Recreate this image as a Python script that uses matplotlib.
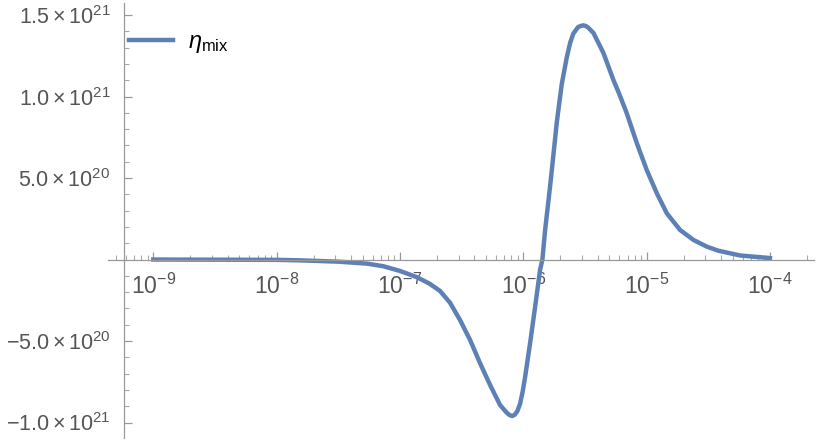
import numpy as np
import matplotlib
matplotlib.use('Agg')
import matplotlib.pyplot as plt
from matplotlib.ticker import FixedLocator, FixedFormatter, NullFormatter

plt.rcParams['font.family'] = ['Liberation Sans', 'DejaVu Sans']
plt.rcParams['mathtext.fontset'] = 'custom'
plt.rcParams['mathtext.rm'] = 'Liberation Sans'
plt.rcParams['mathtext.it'] = 'Liberation Sans:italic'
plt.rcParams['mathtext.bf'] = 'Liberation Sans:bold'

# curve: log10(x) and eta in units of 1e21
log_t = [-9.0, -8.5, -8.0, -7.81, -7.5, -7.269, -7.135, -7.0, -6.864, -6.76,
         -6.675, -6.594, -6.513, -6.431, -6.35, -6.269, -6.188, -6.134, -6.11,
         -6.09, -6.07, -6.048, -6.026, -6.005, -5.985, -5.945, -5.904, -5.864,
         -5.845, -5.823, -5.783, -5.767, -5.728, -5.688, -5.647, -5.62, -5.594,
         -5.556, -5.535, -5.513, -5.494, -5.475, -5.431, -5.35, -5.269, -5.215,
         -5.161, -5.079, -4.999, -4.917, -4.836, -4.728, -4.62, -4.512, -4.418,
         -4.242, -4.0]
eta = [0.0, -0.001, -0.002, -0.005, -0.013, -0.025, -0.041, -0.07, -0.108, -0.148,
       -0.193, -0.265, -0.371, -0.494, -0.637, -0.77, -0.893, -0.94, -0.955,
       -0.96, -0.953, -0.93, -0.885, -0.81, -0.72, -0.514, -0.29, -0.064,
       0.0, 0.181, 0.447, 0.561, 0.844, 1.077, 1.242, 1.33, 1.387,
       1.426, 1.433, 1.437, 1.433, 1.424, 1.39, 1.267, 1.101, 1.003,
       0.897, 0.713, 0.549, 0.406, 0.283, 0.181, 0.12, 0.079, 0.054,
       0.025, 0.009]

xticks = [1e-9, 1e-8, 1e-7, 1e-6, 1e-5, 1e-4]
xlabels = [r'$10^{-9}$', r'$10^{-8}$', r'$10^{-7}$', r'$10^{-6}$', r'$10^{-5}$', r'$10^{-4}$']
yticks = [-1.0e21, -5.0e20, 5.0e20, 1.0e21, 1.5e21]
ylabels = [r'$-1.0\times10^{21}$', r'$-5.0\times10^{20}$', r'$5.0\times10^{20}$',
           r'$1.0\times10^{21}$', r'$1.5\times10^{21}$']

x = 10 ** np.array(log_t)
y = np.array(eta) * 1e21

fig = plt.figure(figsize=(8.17, 4.44), dpi=100)
ax = fig.add_axes([108/817, 6/444, 706/817, 435/444])
ax.plot(x, y, color='#5E81B5', lw=3.2, label=r'$\eta_{\mathrm{mix}}$',
        solid_joinstyle='round')

ax.set_xscale('log')
ax.set_xlim(10**-9.367, 10**-3.643)
ax.set_ylim(-1.095e21, 1.574e21)

for s in ['top', 'right']:
    ax.spines[s].set_visible(False)
ax.spines['bottom'].set_position(('data', 0))
ax.spines['left'].set_position(('data', 10**-9.235))
for s in ['bottom', 'left']:
    ax.spines[s].set_color('#999999')
    ax.spines[s].set_linewidth(0.9)

ax.xaxis.set_major_locator(FixedLocator(xticks))
ax.xaxis.set_major_formatter(FixedFormatter(xlabels))
minor_x = [m * 10.0**e for e in range(-10, -3) for m in range(2, 10)]
ax.xaxis.set_minor_locator(FixedLocator(minor_x))
ax.xaxis.set_minor_formatter(NullFormatter())

ax.yaxis.set_major_locator(FixedLocator(yticks))
ax.yaxis.set_major_formatter(FixedFormatter(ylabels))
minor_y = [v * 1e20 for v in range(-11, 16) if v % 5 != 0]
ax.yaxis.set_minor_locator(FixedLocator(minor_y))

ax.tick_params(axis='both', which='major', direction='in', length=6, width=0.9,
               color='#999999', labelcolor='#555555')
ax.tick_params(axis='both', which='minor', direction='in', length=3.5, width=0.8,
               color='#aaaaaa')
ax.tick_params(axis='x', which='major', pad=10, labelsize=16.5)
ax.tick_params(axis='y', which='major', pad=10, labelsize=15.5)

ax.legend(loc='upper left', bbox_to_anchor=(0.0, 0.985), frameon=False,
          fontsize=17, handlelength=1.85, handletextpad=0.65)

fig.savefig('out.png', dpi=100)
